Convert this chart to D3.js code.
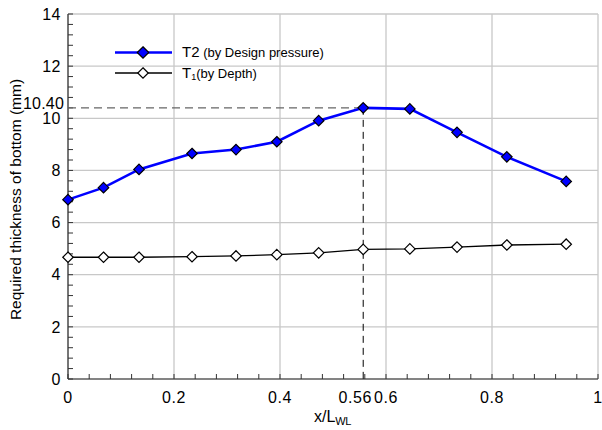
<!DOCTYPE html>
<html>
<head>
<meta charset="utf-8">
<script src="https://cdn.jsdelivr.net/npm/d3@7/dist/d3.min.js"></script>
<style>
  body { margin: 0; background: #fff; }
  svg { display: block; font-family: "Liberation Sans", Arial, sans-serif; }
</style>
</head>
<body>
<div id="chart"></div>
<script>
// data
var xPos = [0, 0.067, 0.134, 0.234, 0.317, 0.394, 0.473, 0.557, 0.645, 0.734, 0.828, 0.940];
var t2 = [6.88, 7.34, 8.04, 8.65, 8.80, 9.10, 9.91, 10.40, 10.36, 9.46, 8.52, 7.58];
var t1 = [4.67, 4.67, 4.67, 4.69, 4.72, 4.77, 4.84, 4.97, 4.99, 5.06, 5.14, 5.17];
var xTicks = [0, 0.2, 0.4, 0.6, 0.8, 1];
var yTicks = [0, 2, 4, 6, 8, 10, 12, 14];
var peakX = 0.557, peakY = 10.40;

var width = 602, height = 430;
var margin = {top: 14, right: 4, bottom: 51, left: 68};

var svg = d3.select("#chart").append("svg")
    .attr("width", width)
    .attr("height", height);

var x = d3.scaleLinear().domain([0, 1]).range([margin.left, width - margin.right]);
var y = d3.scaleLinear().domain([0, 14]).range([height - margin.bottom, margin.top]);

// grid
svg.append("g").selectAll("line")
    .data(xTicks)
    .enter().append("line")
    .attr("x1", d => x(d)).attr("x2", d => x(d))
    .attr("y1", y(0)).attr("y2", y(14))
    .attr("stroke", "#c8c8c8").attr("stroke-width", 1.3);
svg.append("g").selectAll("line")
    .data(yTicks)
    .enter().append("line")
    .attr("x1", x(0)).attr("x2", x(1))
    .attr("y1", d => y(d)).attr("y2", d => y(d))
    .attr("stroke", "#c8c8c8").attr("stroke-width", 1.3);

// minor ticks, drawn inside
var xMinor = d3.range(0, 1.0001, 0.04);
var yMinor = d3.range(0, 14.0001, 0.4);
svg.append("g").selectAll("line")
    .data(xMinor)
    .enter().append("line")
    .attr("x1", d => x(d)).attr("x2", d => x(d))
    .attr("y1", y(0)).attr("y2", y(0) - 5)
    .attr("stroke", "#333").attr("stroke-width", 1);
svg.append("g").selectAll("line")
    .data(yMinor)
    .enter().append("line")
    .attr("x1", x(0)).attr("x2", x(0) + 5)
    .attr("y1", d => y(d)).attr("y2", d => y(d))
    .attr("stroke", "#333").attr("stroke-width", 1);

// axis lines
svg.append("line")
    .attr("x1", x(0)).attr("x2", x(1)).attr("y1", y(0)).attr("y2", y(0))
    .attr("stroke", "#333").attr("stroke-width", 1.2);
svg.append("line")
    .attr("x1", x(0)).attr("x2", x(0)).attr("y1", y(0)).attr("y2", y(14))
    .attr("stroke", "#333").attr("stroke-width", 1.2);

// tick labels
svg.append("g").selectAll("text")
    .data(yTicks)
    .enter().append("text")
    .attr("x", x(0) - 7)
    .attr("y", d => y(d))
    .attr("dy", "0.36em")
    .attr("text-anchor", "end")
    .attr("font-size", 16)
    .attr("letter-spacing", 0.5)
    .text(d => d);
svg.append("g").selectAll("text")
    .data(xTicks)
    .enter().append("text")
    .attr("x", d => x(d))
    .attr("y", y(0) + 24)
    .attr("text-anchor", "middle")
    .attr("font-size", 16)
    .attr("letter-spacing", 0.6)
    .text(d => d);

// peak guide lines
svg.append("line")
    .attr("x1", x(0)).attr("x2", x(peakX))
    .attr("y1", y(peakY)).attr("y2", y(peakY))
    .attr("stroke", "#666").attr("stroke-width", 1.3)
    .attr("stroke-dasharray", "8,5");
svg.append("line")
    .attr("x1", x(peakX)).attr("x2", x(peakX))
    .attr("y1", y(peakY)).attr("y2", y(0))
    .attr("stroke", "#000").attr("stroke-width", 1)
    .attr("stroke-dasharray", "7,5");
svg.append("text")
    .attr("x", x(0) - 4)
    .attr("y", y(peakY))
    .attr("dy", "0.05em")
    .attr("text-anchor", "end")
    .attr("font-size", 16)
    .attr("letter-spacing", 0.2)
    .text(peakY.toFixed(2));
svg.append("text")
    .attr("x", x(0.6) - 14)
    .attr("y", y(0) + 24)
    .attr("text-anchor", "end")
    .attr("font-size", 16)
    .attr("letter-spacing", 0.6)
    .text("0.56");

// axis titles
var xt = svg.append("text")
    .attr("x", 314)
    .attr("y", 422)
    .attr("font-size", 16);
xt.append("tspan").text("x/L");
xt.append("tspan").attr("font-size", 11).attr("dy", 3).attr("letter-spacing", -0.5).text("WL");

svg.append("text")
    .attr("transform", "translate(21," + (y(7) + 3) + ") rotate(-90)")
    .attr("text-anchor", "middle")
    .attr("font-size", 15.5)
    .text("Required thickness of bottom (mm)");

// series
var line = d3.line()
    .x(d => x(d[0]))
    .y(d => y(d[1]));
var diamond = d3.symbol().type(d3.symbolDiamond2).size(70);

var d1 = xPos.map((v, i) => [v, t1[i]]);
var d2 = xPos.map((v, i) => [v, t2[i]]);

svg.append("path").datum(d1)
    .attr("d", line).attr("fill", "none")
    .attr("stroke", "#000").attr("stroke-width", 1.3);
svg.append("g").selectAll("path")
    .data(d1)
    .enter().append("path")
    .attr("d", diamond)
    .attr("transform", d => "translate(" + x(d[0]) + "," + y(d[1]) + ")")
    .attr("fill", "#fff").attr("stroke", "#000").attr("stroke-width", 1.2);

svg.append("path").datum(d2)
    .attr("d", line).attr("fill", "none")
    .attr("stroke", "#0000ff").attr("stroke-width", 2.6);
svg.append("g").selectAll("path")
    .data(d2)
    .enter().append("path")
    .attr("d", diamond)
    .attr("transform", d => "translate(" + x(d[0]) + "," + y(d[1]) + ")")
    .attr("fill", "#0000ff").attr("stroke", "#000").attr("stroke-width", 1.2);

// legend
var lg = svg.append("g");
lg.append("line")
    .attr("x1", 115).attr("x2", 172).attr("y1", 52.5).attr("y2", 52.5)
    .attr("stroke", "#0000ff").attr("stroke-width", 2.6);
lg.append("path").attr("d", d3.symbol().type(d3.symbolDiamond2).size(85))
    .attr("transform", "translate(143,52.5)")
    .attr("fill", "#0000ff").attr("stroke", "#000").attr("stroke-width", 1.2);
lg.append("line")
    .attr("x1", 115).attr("x2", 172).attr("y1", 73).attr("y2", 73)
    .attr("stroke", "#000").attr("stroke-width", 1.3);
lg.append("path").attr("d", diamond)
    .attr("transform", "translate(143,73)")
    .attr("fill", "#fff").attr("stroke", "#000").attr("stroke-width", 1.2);

var l1 = lg.append("text").attr("x", 182).attr("y", 57).attr("font-size", 13);
l1.append("tspan").attr("font-size", 15).text("T2");
l1.append("tspan").text(" (by Design pressure)");
var l2 = lg.append("text").attr("x", 182).attr("y", 77.5).attr("font-size", 13);
l2.append("tspan").attr("font-size", 15).text("T");
l2.append("tspan").attr("font-size", 9).attr("dy", 2).text("1");
l2.append("tspan").attr("dy", -2).text("(by Depth)");
</script>
</body>
</html>
